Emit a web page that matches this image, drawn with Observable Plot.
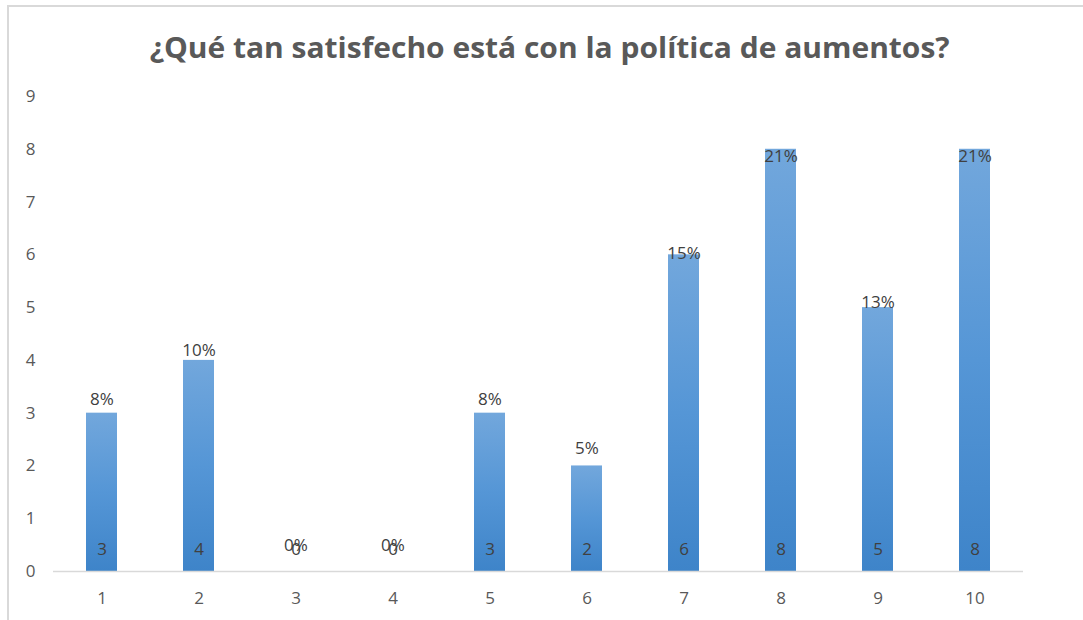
<!DOCTYPE html>
<html>
<head>
<meta charset="utf-8">
<script src="https://cdn.jsdelivr.net/npm/d3@7"></script>
<script src="https://cdn.jsdelivr.net/npm/@observablehq/plot@0.6"></script>
<style>
  html, body { margin: 0; padding: 0; background: #fff; }
  #wrap { position: relative; width: 1083px; height: 620px; overflow: hidden; background: #fff; }
  #frameTop { position: absolute; left: 7px; top: 5px; width: 1076px; height: 2px; background: #d9d9d9; }
  #frameLeft { position: absolute; left: 7px; top: 5px; width: 2px; height: 615px; background: #d9d9d9; }
  #title { position: absolute; left: 8px; width: 1084px; top: 29px; text-align: center;
    font-family: "Open Sans", sans-serif; font-weight: bold; font-size: 28px; color: #595959; line-height: 36px; white-space: nowrap; }
  #title span { display: inline-block; transform-origin: center; }
  #chart { position: absolute; left: 0; top: 85px; }
</style>
</head>
<body>
<div id="wrap">
  <div id="frameTop"></div>
  <div id="frameLeft"></div>
  <div id="title"><span>¿Qué tan satisfecho está con la política de aumentos?</span></div>
  <div id="chart"></div>
</div>
<script>
const categories = ["1", "2", "3", "4", "5", "6", "7", "8", "9", "10"];
const counts = [3, 4, 0, 0, 3, 2, 6, 8, 5, 8];
const percentLabels = ["8%", "10%", "0%", "0%", "8%", "5%", "15%", "21%", "13%", "21%"];
const yTicks = [0, 1, 2, 3, 4, 5, 6, 7, 8, 9];

const data = categories.map((c, i) => ({cat: c, count: counts[i], pct: percentLabels[i]}));

const labelFont = "Open Sans, sans-serif";

const plot = Plot.plot({
  width: 1083,
  height: 535,
  marginLeft: 53,
  marginRight: 60,
  marginTop: 11,
  marginBottom: 49,
  style: {fontFamily: labelFont, fontSize: "17px", color: "#595959", background: "transparent"},
  x: {domain: categories, paddingInner: 0.68, paddingOuter: 0.34, label: null, tickSize: 0, tickPadding: 20},
  y: {domain: [0, 9], ticks: yTicks, label: null, tickSize: 0, tickPadding: 18},
  marks: [
    Plot.barY(data, {x: "cat", y: "count", fill: "url(#barGrad)",
      style: "filter: drop-shadow(0px 0px 1.5px rgba(0,0,0,0.28))"}),
    Plot.ruleY([0], {stroke: "#d9d9d9", strokeWidth: 1.5}),
    Plot.text(data, {x: "cat", y: d => d.count * 0.922 + 0.49, text: "pct",
      fill: "#404040", fontSize: 17}),
    Plot.text(data, {x: "cat", y: 0, text: d => String(d.count), dy: -22,
      fill: "#404040", fontSize: 17})
  ]
});

const ns = "http://www.w3.org/2000/svg";
const defs = document.createElementNS(ns, "defs");
const grad = document.createElementNS(ns, "linearGradient");
grad.setAttribute("id", "barGrad");
grad.setAttribute("x1", "0"); grad.setAttribute("y1", "0");
grad.setAttribute("x2", "0"); grad.setAttribute("y2", "1");
[["0%", "#72a7dc"], ["50%", "#5596d6"], ["100%", "#3e84c9"]].forEach(([o, c]) => {
  const s = document.createElementNS(ns, "stop");
  s.setAttribute("offset", o); s.setAttribute("stop-color", c);
  grad.appendChild(s);
});
defs.appendChild(grad);
plot.insertBefore(defs, plot.firstChild);

document.getElementById("chart").appendChild(plot);

// fit title width to reference (~800px)
const span = document.querySelector("#title span");
const w = span.getBoundingClientRect().width;
if (w > 0) span.style.transform = `scaleX(${800 / w})`;
</script>
</body>
</html>
